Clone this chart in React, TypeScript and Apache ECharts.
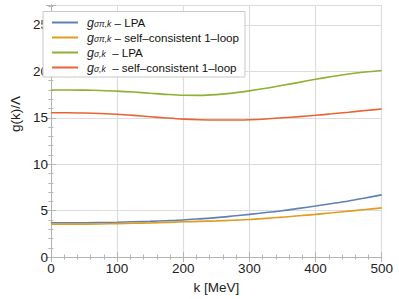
import React, { useEffect, useRef } from "react";
import * as echarts from "echarts";

const kValues = [0, 25, 50, 75, 100, 125, 150, 175, 200, 225, 250, 275, 300, 325, 350, 375, 400, 425, 450, 475, 500];
const sigmaPiLPA = [3.7, 3.7, 3.7, 3.72, 3.75, 3.8, 3.85, 3.92, 4.0, 4.12, 4.25, 4.42, 4.6, 4.8, 5.0, 5.25, 5.5, 5.77, 6.05, 6.37, 6.7];
const sigmaPiSC = [3.55, 3.55, 3.55, 3.57, 3.6, 3.64, 3.68, 3.74, 3.8, 3.85, 3.9, 3.97, 4.05, 4.17, 4.3, 4.45, 4.6, 4.77, 4.95, 5.12, 5.3];
const sigmaLPA = [18.0, 18.0, 17.98, 17.94, 17.88, 17.78, 17.65, 17.52, 17.43, 17.42, 17.5, 17.66, 17.9, 18.18, 18.5, 18.82, 19.15, 19.45, 19.72, 19.93, 20.1];
const sigmaSC = [15.55, 15.55, 15.52, 15.46, 15.38, 15.26, 15.12, 14.98, 14.86, 14.79, 14.76, 14.76, 14.8, 14.88, 15.0, 15.13, 15.27, 15.43, 15.6, 15.78, 15.95];

const seriesNames = [
  "gσπ,k – LPA",
  "gσπ,k – self–consistent 1–loop",
  "gσ,k – LPA",
  "gσ,k – self–consistent 1–loop",
];
const legendRich = [
  "{g|g}{s|σπ,k}{t| – LPA}",
  "{g|g}{s|σπ,k}{t| – self–consistent 1–loop}",
  "{g|g}{s|σ,k}{t|  – LPA}",
  "{g|g}{s|σ,k}{t|  – self–consistent 1–loop}",
];
const colors = ["#5E81B5", "#E19C24", "#8FB032", "#EB6235"];
const allSeries = [sigmaPiLPA, sigmaPiSC, sigmaLPA, sigmaSC];

const xTicks = { min: 0, max: 500, interval: 100 };
const yTicks = { min: 0, max: 27.15, interval: 5 };

const FONT = "Liberation Sans";
const FRAME = "#b4b4b4";

export default function App() {
  const ref = useRef<HTMLDivElement>(null);
  useEffect(() => {
    if (!ref.current) return;
    const chart = echarts.init(ref.current, null, { renderer: "svg" });
    const frameAxis = {
      axisLine: { show: true, lineStyle: { color: FRAME, width: 1 } },
      axisTick: { show: true, inside: true, length: 5, lineStyle: { color: FRAME } },
      minorTick: { show: true, splitNumber: 5, length: 2.5, lineStyle: { color: FRAME } },
    };
    chart.setOption({
      animation: false,
      backgroundColor: "#fff",
      grid: { left: 37, right: 17.3, top: 5, bottom: 34.7 },
      legend: {
        left: 43,
        top: 11.5,
        orient: "vertical",
        itemWidth: 26,
        itemHeight: 2,
        itemGap: 2,
        icon: "rect",
        padding: [4.5, 6, 3, 9],
        borderColor: "#c8c8c8",
        borderWidth: 1,
        backgroundColor: "#fff",
        data: seriesNames,
        formatter: (name: string) => legendRich[seriesNames.indexOf(name)],
        textStyle: {
          fontFamily: FONT,
          color: "#111",
          rich: {
            g: { fontSize: 12.5, fontStyle: "italic", fontFamily: FONT, lineHeight: 11.3, padding: [0, 0, 0, 4], color: "#222" },
            s: { fontSize: 8.5, fontStyle: "italic", fontFamily: FONT, lineHeight: 3, verticalAlign: "bottom", color: "#222" },
            t: { fontSize: 11.6, fontFamily: FONT, lineHeight: 11.3, color: "#111" },
          },
        },
      },
      xAxis: [
        {
          type: "value",
          ...xTicks,
          name: "k [MeV]",
          nameLocation: "middle",
          nameGap: 17,
          nameTextStyle: { fontFamily: FONT, fontSize: 13.5, color: "#222" },
          ...frameAxis,
          axisLabel: { fontFamily: FONT, fontSize: 13.5, color: "#222", margin: 4 },
          splitLine: { show: true, lineStyle: { color: "#dcdcdc", width: 1.2 } },
        },
        {
          type: "value",
          ...xTicks,
          position: "top",
          ...frameAxis,
          axisLabel: { show: false },
          splitLine: { show: false },
        },
      ],
      yAxis: [
        {
          type: "value",
          ...yTicks,
          name: "g(k)/Λ",
          nameLocation: "middle",
          nameGap: 16,
          nameTextStyle: { fontFamily: FONT, fontSize: 13.5, color: "#222", padding: [0, 0, 0, 34] },
          ...frameAxis,
          axisLabel: { fontFamily: FONT, fontSize: 13.5, color: "#222", margin: 3, showMaxLabel: false },
          splitLine: { show: true, lineStyle: { color: "#dcdcdc", width: 1.2 } },
        },
        {
          type: "value",
          ...yTicks,
          position: "right",
          ...frameAxis,
          axisLabel: { show: false },
          splitLine: { show: false },
        },
      ],
      series: allSeries.map((vals, i) => ({
        name: seriesNames[i],
        type: "line",
        xAxisIndex: 0,
        yAxisIndex: 0,
        smooth: 0.3,
        showSymbol: false,
        symbol: "none",
        color: colors[i],
        lineStyle: { color: colors[i], width: 1.6 },
        data: kValues.map((k, j) => [k, vals[j]]),
      })),
    });
    return () => chart.dispose();
  }, []);
  return <div ref={ref} style={{ width: 399, height: 299, position: "absolute", left: 0, top: 0 }} />;
}
